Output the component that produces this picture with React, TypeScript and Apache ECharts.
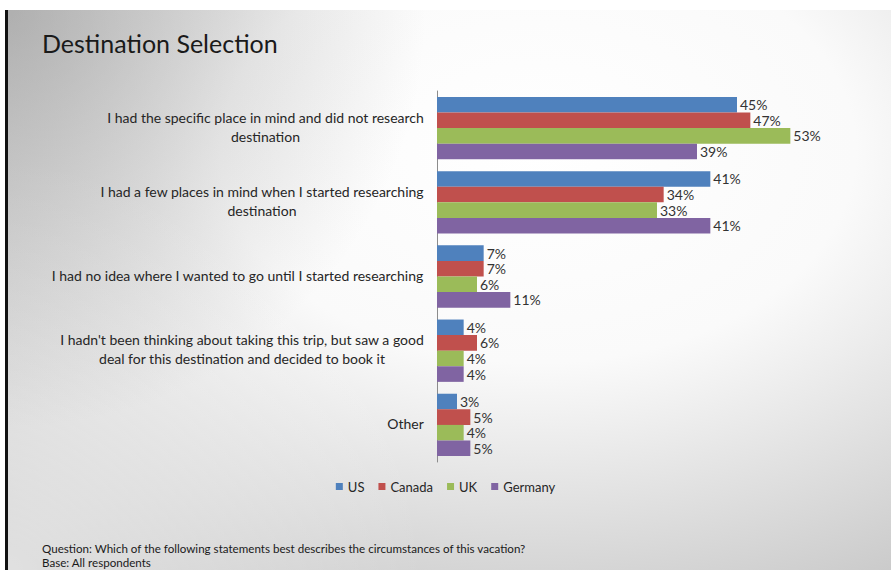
import React, { useEffect, useRef } from "react";
import * as echarts from "echarts";

const categories = [
  "I had the specific place in mind and did not research\ndestination",
  "I had a few places in mind when I started researching\ndestination",
  "I had no idea where I wanted to go until I started researching",
  "I hadn't been thinking about taking this trip, but saw a good\ndeal for this destination and decided to book it",
  "Other",
];
const seriesNames = ["US", "Canada", "UK", "Germany"];
const usValues = [45, 41, 7, 4, 3];
const canadaValues = [47, 34, 7, 6, 5];
const ukValues = [53, 33, 6, 4, 4];
const germanyValues = [39, 41, 11, 4, 5];
const seriesValues = [usValues, canadaValues, ukValues, germanyValues];

const colors = ["#4f81bd", "#c0504d", "#9bbb59", "#8064a2"];
const FONT = "Lato";
const LABEL_SIZE = 14;
const TEXT = "#262626";

function measure(text: string, size: number): number {
  const ctx = document.createElement("canvas").getContext("2d");
  if (!ctx) return text.length * size * 0.5;
  ctx.font = `${size}px ${FONT}`;
  return ctx.measureText(text).width;
}

export default function App() {
  const ref = useRef<HTMLDivElement>(null);
  useEffect(() => {
    document.body.style.margin = "0";
    if (!ref.current) return;
    const chart = echarts.init(ref.current, undefined, { renderer: "svg" });
    const rich: Record<string, any> = {};
    categories.forEach((c, i) => {
      const lines = c.split("\n");
      const w = Math.ceil(Math.max(...lines.map((l) => measure(l, LABEL_SIZE)))) + 2;
      rich["c" + i] = {
        width: w,
        align: "center",
        fontSize: LABEL_SIZE,
        fontFamily: FONT,
        color: TEXT,
        lineHeight: 19,
      };
    });
    chart.setOption({
      animation: false,
      backgroundColor: "transparent",
      textStyle: { fontFamily: FONT },
      title: {
        text: "Destination Selection",
        left: 37,
        top: 25,
        textStyle: { fontFamily: FONT, fontSize: 25, fontWeight: "normal", color: "#1a1a1a" },
      },
      legend: {
        data: seriesNames,
        left: "center",
        top: 475,
        icon: "rect",
        itemWidth: 7,
        itemHeight: 7,
        itemGap: 14,
        textStyle: { fontFamily: FONT, fontSize: 13, color: TEXT },
      },
      grid: { left: 437, top: 91, width: 400, height: 371, containLabel: false },
      xAxis: { type: "value", min: 0, max: 60, show: false },
      yAxis: {
        type: "category",
        data: categories,
        inverse: true,
        axisLine: { show: true, lineStyle: { color: "#8c8c8c", width: 1 } },
        axisTick: { show: false },
        axisLabel: {
          margin: 12,
          align: "right",
          padding: [0, 0, 3, 0],
          rich,
          formatter: (value: string, index: number) =>
            value
              .split("\n")
              .map((l) => `{c${index}|${l}}`)
              .join("\n"),
        },
      },
      series: seriesNames.map((name, i) => ({
        name,
        type: "bar",
        data: seriesValues[i],
        barGap: "0%",
        barCategoryGap: "16%",
        itemStyle: { color: colors[i] },
        label: {
          show: true,
          position: "right",
          distance: 3,
          formatter: "{c}%",
          fontFamily: FONT,
          fontSize: 14,
          color: "#333333",
        },
      })),
      graphic: [
        {
          type: "text",
          left: 42,
          top: 542,
          style: {
            text: "Question: Which of the following statements best describes the circumstances of this vacation?",
            font: `11.6px ${FONT}`,
            fill: "#1a1a1a",
          },
        },
        {
          type: "text",
          left: 42,
          top: 556,
          style: { text: "Base: All respondents", font: `11.6px ${FONT}`, fill: "#1a1a1a" },
        },
      ],
    });
    return () => chart.dispose();
  }, []);

  return (
    <div style={{ position: "fixed", left: 0, top: 0, width: 891, height: 570, background: "#ffffff", overflow: "hidden" }}>
      <div
        style={{
          position: "absolute",
          left: 5,
          top: 10,
          width: 886,
          height: 560,
          boxSizing: "border-box",
          borderLeft: "3px solid #111111",
          background:
            "radial-gradient(circle at 0% 0%, rgba(120,120,120,0.45) 0%, rgba(120,120,120,0) 40%), radial-gradient(circle at 0% 100%, rgba(255,255,255,0.5) 0%, rgba(255,255,255,0) 40%), radial-gradient(ellipse 90% 95% at 60% 25%, #ffffff 0%, #fafafa 40%, rgba(250,250,250,0) 100%), #c2c2c2",
        }}
      />
      <div ref={ref} style={{ position: "absolute", left: 0, top: 0, width: 891, height: 570 }} />
    </div>
  );
}
